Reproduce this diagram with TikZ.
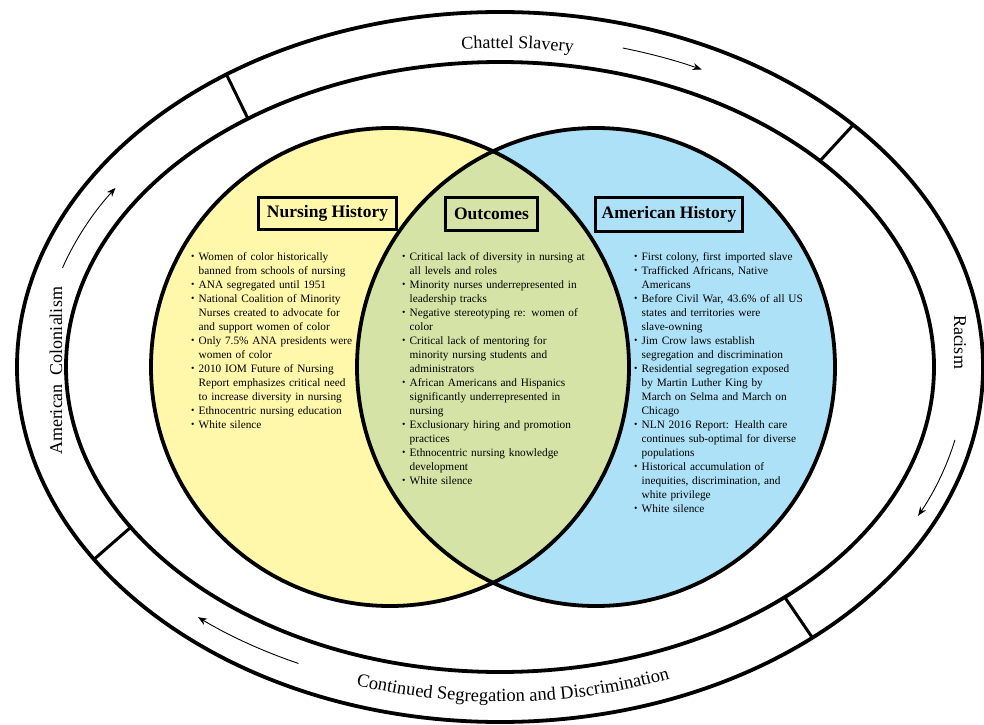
\documentclass[tikz,border=0pt]{standalone}
\usepackage{fontspec}
\setmainfont{Liberation Serif}
\usepackage{graphicx}
\usetikzlibrary{calc,arrows.meta,decorations.text}
\definecolor{nyellow}{HTML}{FFF7AA}
\definecolor{nblue}{HTML}{ADE1F7}
\definecolor{ngreen}{HTML}{D5E4A6}
\newcommand\ringfont{\fontsize{18}{20}\selectfont}
\newcommand\bigringfont{\fontsize{18.5}{20}\selectfont}
\newcommand\listfont{\fontsize{11.3}{14}\selectfont}
\newcommand\bitem[1]{\par\noindent\hangindent=7.5pt\hangafter=1\makebox[7.5pt][l]{\raisebox{0.1ex}{\scalebox{0.85}{\textbullet}}}#1}
\begin{document}
\begin{tikzpicture}[x=1pt,y=1pt,
  ring/.style={line width=3.8pt},
  vennline/.style={line width=3.8pt},
  divider/.style={line width=3pt},
  flowarr/.style={-{Stealth[length=9pt,width=7pt]},line width=0.9pt},
  titlebox/.style={draw,line width=2pt,font=\fontsize{17.5}{20}\selectfont\bfseries,inner sep=0pt},
  listnode/.style={anchor=north west,inner sep=0pt,text width=200pt,align=left,font=\listfont},
  ringtext/.style={decorate,decoration={text along path,text align=center,text={|\ringfont|#1}}},
  bigringtext/.style={decorate,decoration={text along path,text align=center,text={|\bigringfont|#1}}},
  sidelabel/.style={inner sep=0pt,font=\ringfont}
]
\useasboundingbox (0,0) rectangle (984,724);
\coordinate (C) at (500,357);
% outer ring
\draw[ring] (C) ellipse[x radius=483,y radius=355];
\draw[ring] (C) ellipse[x radius=434,y radius=305];
% dividers
\coordinate (d1o) at ($(C)+(124.5:483 and 355)$);
\coordinate (d1i) at ($(C)+(125.5:434 and 305)$);
\coordinate (d2o) at ($(C)+(43:483 and 355)$);
\coordinate (d2i) at ($(C)+(42.5:434 and 305)$);
\coordinate (d3o) at ($(C)+(212.8:483 and 355)$);
\coordinate (d3i) at ($(C)+(211.7:434 and 305)$);
\coordinate (d4o) at ($(C)+(310.3:483 and 355)$);
\coordinate (d4i) at ($(C)+(311:434 and 305)$);
\draw[divider] (d1o) -- (d1i);
\draw[divider] (d2o) -- (d2i);
\draw[divider] (d3o) -- (d3i);
\draw[divider] (d4o) -- (d4i);
% ring labels
\path[ringtext={Chattel Slavery}] ($(C)+(105.7:444 and 319)$) arc[start angle=105.7,end angle=69.7,x radius=444,y radius=319];
\path[bigringtext={Continued Segregation and Discrimination}] ($(C)+(236.8:462 and 335)$) arc[start angle=236.8,end angle=306.8,x radius=462,y radius=335];
\node[sidelabel,rotate=90] (lab-ac) at (56,353) {American\enspace Colonialism};
\node[sidelabel,rotate=-90] (lab-rc) at (960,382) {Racism};
% ring arrows
\coordinate (a1) at ($(C)+(74.5:460 and 331)$);
\coordinate (a2) at ($(C)+(-12.5:466 and 337)$);
\coordinate (a3) at ($(C)+(244.3:465 and 329)$);
\coordinate (a4) at ($(C)+(162.4:459 and 328)$);
\draw[flowarr] (a1) arc[start angle=74.5,end angle=64,x radius=460,y radius=331];
\draw[flowarr] (a2) arc[start angle=-12.5,end angle=-26.2,x radius=466,y radius=337];
\draw[flowarr] (a3) arc[start angle=244.3,end angle=229.5,x radius=465,y radius=329];
\draw[flowarr] (a4) arc[start angle=162.4,end angle=146.9,x radius=459,y radius=328];
% Venn
\coordinate (LC) at (390,357);
\coordinate (RC) at (596,357);
\fill[nyellow] (LC) circle[radius=239];
\fill[nblue] (RC) circle[radius=239];
\begin{scope}
  \clip (LC) circle[radius=239];
  \fill[ngreen] (RC) circle[radius=239];
\end{scope}
\draw[vennline] (LC) circle[radius=239];
\draw[vennline] (RC) circle[radius=239];
% titles
\node[titlebox,minimum width=139pt,minimum height=33pt] (nh) at (327.5,510.5) {Nursing History};
\node[titlebox,minimum width=93pt,minimum height=34pt] (oc) at (491.5,510) {Outcomes};
\node[titlebox,minimum width=148pt,minimum height=35pt] (ah) at (669,509.5) {American History};
\foreach \n in {nh,oc,ah}
  \draw[line width=0.7pt] ([shift={(2.6pt,2.6pt)}]\n.south west) rectangle ([shift={(-2.6pt,-2.6pt)}]\n.north east);
% lists
\node[listnode] (nl) at (191,478) {%
\bitem{Women of color historically\newline banned from schools of nursing}
\bitem{ANA segregated until 1951}
\bitem{National Coalition of Minority\newline Nurses created to advocate for\newline and support women of color}
\bitem{Only 7.5\% ANA presidents were\newline women of color}
\bitem{2010 IOM Future of Nursing\newline Report emphasizes critical need\newline to increase diversity in nursing}
\bitem{Ethnocentric nursing education}
\bitem{White silence}};
\node[listnode] (ol) at (402,478) {%
\bitem{Critical lack of diversity in nursing at\newline all levels and roles}
\bitem{Minority nurses underrepresented in\newline leadership tracks}
\bitem{Negative stereotyping re: women of\newline color}
\bitem{Critical lack of mentoring for\newline minority nursing students and\newline administrators}
\bitem{African Americans and Hispanics\newline significantly underrepresented in\newline nursing}
\bitem{Exclusionary hiring and promotion\newline practices}
\bitem{Ethnocentric nursing knowledge\newline development}
\bitem{White silence}};
\node[listnode] (al) at (634,478) {%
\bitem{First colony, first imported slave}
\bitem{Trafficked Africans, Native\newline Americans}
\bitem{Before Civil War, 43.6\% of all US\newline states and territories were\newline slave-owning}
\bitem{Jim Crow laws establish\newline segregation and discrimination}
\bitem{Residential segregation exposed\newline by Martin Luther King by\newline March on Selma and March on\newline Chicago}
\bitem{NLN 2016 Report: Health care\newline continues sub-optimal for diverse\newline populations}
\bitem{Historical accumulation of\newline inequities, discrimination, and\newline white privilege}
\bitem{White silence}};
\end{tikzpicture}
\end{document}
